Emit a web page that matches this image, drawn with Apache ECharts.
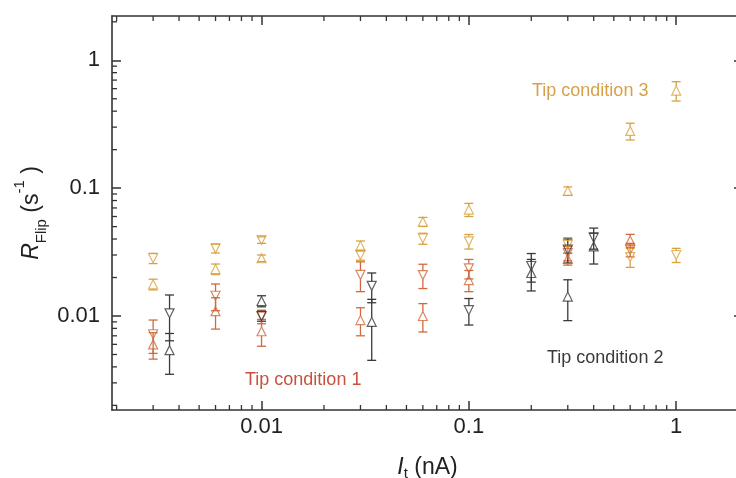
<!DOCTYPE html>
<html><head><meta charset="utf-8">
<script src="https://cdn.jsdelivr.net/npm/echarts@6/dist/echarts.min.js"></script>
<style>html,body{margin:0;padding:0;background:#fff}#c{width:736px;height:478px}</style>
</head><body><div id="c"></div>
<script>
// ---- tick values / labels ----
const xMajor = [0.01, 0.1, 1];
const xTickLabels = ['0.01', '0.1', '1'];
const yMajor = [0.01, 0.1, 1];
const yTickLabels = ['0.01', '0.1', '1'];
const minorTicks = [0.002,0.003,0.004,0.005,0.006,0.007,0.008,0.009,
                    0.02,0.03,0.04,0.05,0.06,0.07,0.08,0.09,
                    0.2,0.3,0.4,0.5,0.6,0.7,0.8,0.9,2];

// ---- Tip condition 3 (gold) ----
const tc3X       = [0.003, 0.006, 0.01, 0.03, 0.06, 0.1, 0.3, 0.6, 1];
const tc3Up      = [0.0177, 0.0233, 0.0283, 0.0354, 0.0546, 0.068, 0.095, 0.28, 0.58];
const tc3UpErr   = [0.0017, 0.0022, 0.0017, 0.0032, 0.0044, 0.008, 0.0072, 0.042, 0.10];
const tc3Down    = [0.0283, 0.0338, 0.0393, 0.030, 0.0404, 0.0384, 0.036, 0.0289, 0.030];
const tc3DownErr = [0.0026, 0.0027, 0.0023, 0.0027, 0.004, 0.005, 0.005, 0.0049, 0.0038];

// ---- Tip condition 1 (red) ----
const tc1X       = [0.003, 0.006, 0.01, 0.03, 0.06, 0.1, 0.3, 0.6];
const tc1Down    = [0.0072, 0.0144, 0.0099, 0.021, 0.0209, 0.0236, 0.031, 0.033];
const tc1DownErr = [0.0021, 0.0034, 0.0012, 0.0055, 0.0045, 0.0041, 0.004, 0.004];
const tc1Up      = [0.0060, 0.0109, 0.0076, 0.0093, 0.0100, 0.0191, 0.028, 0.039];
const tc1UpErr   = [0.0014, 0.0030, 0.0018, 0.0023, 0.0025, 0.0036, 0.003, 0.0045];

// ---- Tip condition 2 (black) ----
const tc2DownX   = [0.0036, 0.01, 0.034, 0.1, 0.2, 0.3, 0.4];
const tc2Down    = [0.0105, 0.0100, 0.0172, 0.0111, 0.0246, 0.033, 0.041];
const tc2DownErr = [0.0041, 0.0009, 0.0045, 0.0026, 0.0062, 0.007, 0.0077];
const tc2UpX     = [0.0036, 0.01, 0.034, 0.2, 0.3, 0.4];
const tc2Up      = [0.0054, 0.0131, 0.0090, 0.0217, 0.0142, 0.035];
const tc2UpErr   = [0.0019, 0.0013, 0.0045, 0.006, 0.005, 0.0095];

const GOLD = '#D8A240', RED = '#D06A3C', DARK = '#3a3a3a';
const FONT = '"Liberation Sans", Arial, sans-serif';
const AX = '#333';
const X_MIN = 0.0019, X_MAX = 2.1, Y_MIN = 0.00184, Y_MAX = 2.22;

function labelFor(v, vals, labels) {
  let best = 0, bd = Infinity;
  vals.forEach((t, i) => { const d = Math.abs(Math.log10(v) - Math.log10(t)); if (d < bd) { bd = d; best = i; } });
  return labels[best];
}

function errorBars(xs, ys, es, color) {
  return {
    type: 'custom', xAxisIndex: 0, yAxisIndex: 0, silent: true, z: 2,
    data: xs.map((x, i) => [x, ys[i], ys[i] - es[i], ys[i] + es[i]]),
    encode: { x: 0, y: [1, 2, 3] },
    renderItem: function (params, api) {
      const c = api.coord([api.value(0), api.value(1)]);
      const lo = api.coord([api.value(0), api.value(2)]);
      const hi = api.coord([api.value(0), api.value(3)]);
      const hw = 4.5, gap = 4.5;
      const st = { stroke: color, lineWidth: 1.3, fill: null };
      const ch = [
        { type: 'line', shape: { x1: c[0] - hw, y1: lo[1], x2: c[0] + hw, y2: lo[1] }, style: st },
        { type: 'line', shape: { x1: c[0] - hw, y1: hi[1], x2: c[0] + hw, y2: hi[1] }, style: st }
      ];
      if (hi[1] < c[1] - gap) ch.push({ type: 'line', shape: { x1: c[0], y1: hi[1], x2: c[0], y2: c[1] - gap }, style: st });
      if (lo[1] > c[1] + gap) ch.push({ type: 'line', shape: { x1: c[0], y1: c[1] + gap, x2: c[0], y2: lo[1] }, style: st });
      return { type: 'group', children: ch };
    }
  };
}
function markers(xs, ys, color, down) {
  return {
    type: 'scatter', xAxisIndex: 0, yAxisIndex: 0, z: 3,
    data: xs.map((x, i) => [x, ys[i]]),
    symbol: 'triangle', symbolSize: [9, 9], symbolRotate: down ? 180 : 0,
    itemStyle: { color: 'rgba(255,255,255,0)', borderColor: color, borderWidth: 1.2 },
    emphasis: { disabled: true }
  };
}
// minor log ticks on left/right frame sides, placed through the y axis scale
function minorTickSeriesY() {
  return {
    type: 'custom', xAxisIndex: 0, yAxisIndex: 0, silent: true, clip: false, z: 5,
    data: minorTicks.map(v => [X_MIN, v]),
    encode: { x: 0, y: 1 },
    renderItem: function (params, api) {
      const cs = params.coordSys;
      const p = api.coord([api.value(0), api.value(1)]);
      const st = { stroke: AX, lineWidth: 1.3 };
      const L = 5;
      const y = p[1];
      if (!(y >= cs.y && y <= cs.y + cs.height)) return null;
      return { type: 'group', children: [
        { type: 'line', shape: { x1: cs.x, y1: y, x2: cs.x + L, y2: y }, style: st },
        { type: 'line', shape: { x1: cs.x + cs.width, y1: y, x2: cs.x + cs.width - L, y2: y }, style: st } ] };
    }
  };
}

function axisCommon() {
  return { type: 'log', logBase: 10, splitLine: { show: false }, nameMoveOverlap: false };
}
const lineSt = { show: true, lineStyle: { color: AX, width: 1.6 } };
function tick(vals, len, w) {
  return { show: true, inside: true, length: len, customValues: vals, lineStyle: { color: AX, width: w } };
}

const xAxes = [
  Object.assign(axisCommon(), { position: 'bottom', min: X_MIN, max: X_MAX, axisLine: lineSt,
    axisTick: tick(xMajor, 9, 1.5),
    axisLabel: { customValues: xMajor, margin: 6, fontSize: 22, color: '#222', fontFamily: FONT,
      formatter: v => labelFor(v, xMajor, xTickLabels) },
    name: '{i|I}{xsub|t}{n| (nA)}', nameLocation: 'middle', nameGap: 38,
    nameTextStyle: { rich: {
      n: { fontSize: 23, lineHeight: 40, verticalAlign: 'middle', fontFamily: FONT, color: '#222' },
      i: { fontSize: 23, lineHeight: 40, verticalAlign: 'middle', fontFamily: FONT, fontStyle: 'italic', color: '#222' },
      xsub: { fontSize: 15, lineHeight: 22, verticalAlign: 'bottom', padding: [0, 0, 7, 0], fontFamily: FONT, color: '#222' } } } }),
  Object.assign(axisCommon(), { position: 'top', min: X_MIN, max: X_MAX, axisLine: lineSt,
    axisTick: tick(xMajor, 9, 1.5), axisLabel: { show: false } })
];
const yAxes = [
  Object.assign(axisCommon(), { position: 'left', min: Y_MIN, max: Y_MAX, axisLine: lineSt,
    axisTick: tick(yMajor, 9, 1.5),
    axisLabel: { customValues: yMajor, margin: 12, fontSize: 22, color: '#222', fontFamily: FONT,
      formatter: v => labelFor(v, yMajor, yTickLabels) },
    name: '{i|R}{sub|Flip}{n| (s}{sup|-1}{n| )}', nameLocation: 'middle', nameGap: 60,
    nameTextStyle: { rich: {
      n: { fontSize: 23, lineHeight: 40, verticalAlign: 'middle', fontFamily: FONT, color: '#222' },
      i: { fontSize: 23, lineHeight: 40, verticalAlign: 'middle', fontFamily: FONT, fontStyle: 'italic', color: '#222' },
      sub: { fontSize: 15, lineHeight: 22, verticalAlign: 'bottom', padding: [0, 0, 3, 0], fontFamily: FONT, color: '#222' },
      sup: { fontSize: 15, lineHeight: 12, verticalAlign: 'top', fontFamily: FONT, color: '#222' } } } }),
  Object.assign(axisCommon(), { position: 'right', min: Y_MIN, max: Y_MAX, axisLine: lineSt,
    axisTick: tick(yMajor, 9, 1.5), axisLabel: { show: false } })
];

const textGraphics = [
  { type: 'text', left: 532, top: 82, style: { text: 'Tip condition 3', fontSize: 18, fontFamily: FONT, fill: '#D6A14A' } },
  { type: 'text', left: 245, top: 371, style: { text: 'Tip condition 1', fontSize: 18, fontFamily: FONT, fill: '#C9503E' } },
  { type: 'text', left: 547, top: 349, style: { text: 'Tip condition 2', fontSize: 18, fontFamily: FONT, fill: '#3a3a3a' } }
];

const chart = echarts.init(document.getElementById('c'), null, { renderer: 'canvas' });
chart.setOption({
  animation: false,
  backgroundColor: '#fff',
  grid: { left: 112, right: -7, top: 16, bottom: 68, containLabel: false, outerBoundsMode: 'none' },
  xAxis: xAxes,
  yAxis: yAxes,
  series: [
    minorTickSeriesY(),
    errorBars(tc3X, tc3Up, tc3UpErr, GOLD), markers(tc3X, tc3Up, GOLD, false),
    errorBars(tc3X, tc3Down, tc3DownErr, GOLD), markers(tc3X, tc3Down, GOLD, true),
    errorBars(tc1X, tc1Down, tc1DownErr, RED), markers(tc1X, tc1Down, RED, true),
    errorBars(tc1X, tc1Up, tc1UpErr, RED), markers(tc1X, tc1Up, RED, false),
    errorBars(tc2DownX, tc2Down, tc2DownErr, DARK), markers(tc2DownX, tc2Down, DARK, true),
    errorBars(tc2UpX, tc2Up, tc2UpErr, DARK), markers(tc2UpX, tc2Up, DARK, false)
  ],
  graphic: textGraphics
});

// minor log ticks on bottom/top frame sides, positioned through the x axis scale
const bl = chart.convertToPixel({ xAxisIndex: 0, yAxisIndex: 0 }, [X_MIN, Y_MIN]);
const tr = chart.convertToPixel({ xAxisIndex: 0, yAxisIndex: 0 }, [X_MAX, Y_MAX]);
const xTickEls = [];
minorTicks.forEach(function (v) {
  const x = chart.convertToPixel({ xAxisIndex: 0 }, v);
  if (!(x >= bl[0] && x <= tr[0])) return;
  const st = { stroke: AX, lineWidth: 1.3 };
  xTickEls.push({ type: 'line', silent: true, z: 10, shape: { x1: x, y1: bl[1], x2: x, y2: bl[1] - 5 }, style: st });
  xTickEls.push({ type: 'line', silent: true, z: 10, shape: { x1: x, y1: tr[1], x2: x, y2: tr[1] + 5 }, style: st });
});
chart.setOption({ graphic: textGraphics.concat(xTickEls) });
</script></body></html>
